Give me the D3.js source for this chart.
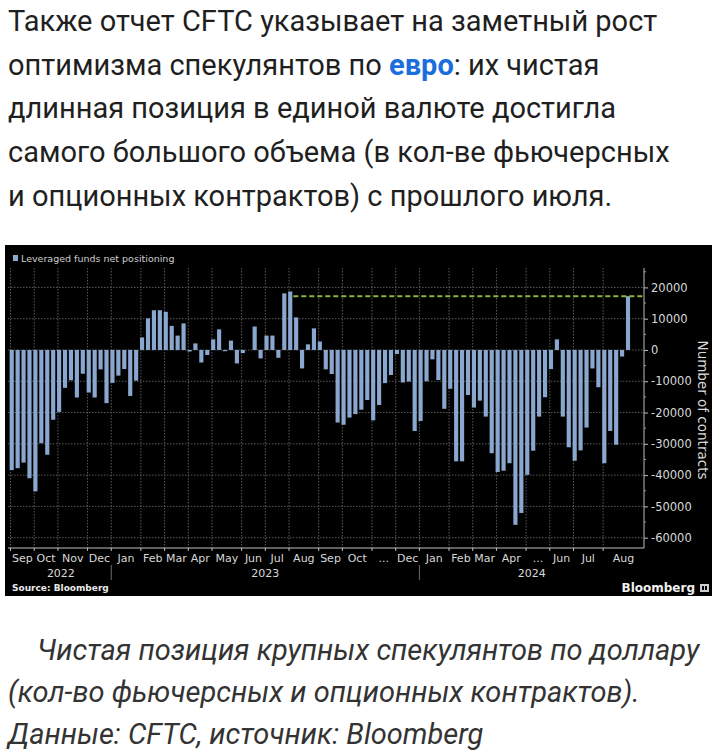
<!DOCTYPE html>
<html>
<head>
<meta charset="utf-8">
<script src="https://cdn.jsdelivr.net/npm/d3@7"></script>
<style>
  html, body { margin: 0; padding: 0; background: #ffffff; }
  svg { display: block; }
</style>
</head>
<body>
<script>
// ---------------- DATA ----------------
// Weekly leveraged funds net positioning (contracts), Sep 2022 – Aug 2024
const netPositions = [
  -38400, -37800, -36000, -41000, -45200, -29800, -33500, -22300, -19800, -12100,
  -9700, -15200, -7600, -13600, -15200, -6200, -17000, -10500, -8200, -6100,
  -14700, -9800, 4000, 10100, 12700, 12700, 12200, 7700, 4600, 8500,
  -500, 2100, -4000, -1600, 3400, 6600, -400, 3000, -4300, -1000,
  0, 7500, -2700, 4600, 4600, -2500, 18100, 18700, 10400, -5900,
  1800, 6900, 2700, -6200, -7700, -23200, -23900, -21600, -20500, -19100,
  -16000, -22500, -17600, -10600, -8000, -1300, -10400, -10100, -25900, -22700,
  -10000, -3000, -9600, -18800, -12400, -35600, -35600, -14400, -18400, -16200,
  -21300, -33000, -39000, -38600, -36200, -55900, -52100, -39900, -32200, -21300,
  -15100, -6100, 3400, -21300, -31100, -35400, -32100, -24800, -5900, -11900,
  -36200, -25900, -30300, -2100, 17200
];
const referenceLevel = 17200;           // dashed green line (latest value)
const referenceStartIndex = 47;         // drawn from the July 2023 peak

const monthLabels = ["Sep","Oct","Nov","Dec","Jan","Feb","Mar","Apr","May","Jun","Jul","Aug",
                     "Sep","Oct","...","Dec","Jan","Feb","Mar","Apr","...","Jun","Jul","Aug"];
const monthStartIndex = [0,4,8,13,17,22,26,30,34,39,43,47,52,56,61,65,69,74,78,82,87,91,95,100];
const yearLabels = ["2022","2023","2024"];
const yearStartIndex = [0,17,69];
const yTickValues = [20000,10000,0,-10000,-20000,-30000,-40000,-50000,-60000];
const yMinorTickValues = [25000,15000,5000,-5000,-15000,-25000,-35000,-45000,-55000];

const introLines = [
  [{t:"Также отчет CFTC указывает на заметный рост"}],
  [{t:"оптимизма спекулянтов по "},{t:"евро", b:true},{t:": их чистая"}],
  [{t:"длинная позиция в единой валюте достигла"}],
  [{t:"самого большого объема (в кол-ве фьючерсных"}],
  [{t:"и опционных контрактов) с прошлого июля."}]
];
const captionLines = [
  "Чистая позиция крупных спекулянтов по доллару",
  "(кол-во фьючерсных и опционных контрактов).",
  "Данные: CFTC, источник: Bloomberg"
];

// ---------------- LAYOUT ----------------
const W = 716, H = 750;
const plotLeft = 8, plotRight = 644, plotTop = 268, plotBottom = 548;
const barColor = "#8aa7cf";
const gridColor = "#5a5a5a";
const axisText = "#d8d8d8";
const font = "DejaVu Sans, sans-serif";

const svg = d3.select("body").append("svg")
  .attr("width", W).attr("height", H)
  .attr("viewBox", `0 0 ${W} ${H}`);

// ---------- Intro paragraph ----------
const intro = svg.append("g");
introLines.forEach((line, i) => {
  const t = intro.append("text")
    .attr("x", 8).attr("y", 31 + i * 43.7)
    .attr("font-family", "Roboto, sans-serif")
    .attr("font-size", 29)
    .attr("fill", "#1f1f1f");
  line.forEach(seg => {
    const s = t.append("tspan").text(seg.t);
    if (seg.b) s.attr("font-weight", "bold").attr("fill", "#1a6fdc");
  });
});

// ---------- Chart panel ----------
svg.append("rect")
  .attr("x", 5).attr("y", 245).attr("width", 707).attr("height", 351)
  .attr("fill", "#000000");

const idx = d3.range(netPositions.length);
const x = d3.scaleBand()
  .domain(idx)
  .range([8.74, 8.74 + 5.926 * netPositions.length])
  .paddingInner(0.3)
  .paddingOuter(0.15);
const step = x.step();
const slotLeft = i => x(i) - (step - x.bandwidth()) / 2;
const tickX = i => slotLeft(i) + step * 0.3;

const y = d3.scaleLinear()
  .domain([-63300, 26200])
  .range([plotBottom, plotTop]);

// Horizontal gridlines
svg.append("g").selectAll("line")
  .data(yTickValues)
  .join("line")
  .attr("x1", plotLeft).attr("x2", plotRight)
  .attr("y1", d => y(d)).attr("y2", d => y(d))
  .attr("stroke", gridColor).attr("stroke-width", 1)
  .attr("stroke-dasharray", "1.5,1.5");

// Vertical gridlines at month starts
svg.append("g").selectAll("line")
  .data(monthStartIndex)
  .join("line")
  .attr("x1", d => tickX(d)).attr("x2", d => tickX(d))
  .attr("y1", plotTop).attr("y2", plotBottom)
  .attr("stroke", gridColor).attr("stroke-width", 1)
  .attr("stroke-dasharray", "1.5,1.5");

// Bars
svg.append("g").selectAll("rect")
  .data(netPositions)
  .join("rect")
  .attr("x", (d, i) => x(i))
  .attr("width", x.bandwidth())
  .attr("y", d => y(Math.max(0, d)))
  .attr("height", d => Math.abs(y(d) - y(0)))
  .attr("fill", barColor);

// Dashed reference line
svg.append("line")
  .attr("x1", x(referenceStartIndex) + x.bandwidth() + 1)
  .attr("x2", plotRight)
  .attr("y1", y(referenceLevel)).attr("y2", y(referenceLevel))
  .attr("stroke", "#8db43a").attr("stroke-width", 2)
  .attr("stroke-dasharray", "5,3");

// X axis line
svg.append("line")
  .attr("x1", plotLeft).attr("x2", plotRight)
  .attr("y1", plotBottom).attr("y2", plotBottom)
  .attr("stroke", "#bdbdbd").attr("stroke-width", 1);

// X ticks
svg.append("g").selectAll("line")
  .data(monthStartIndex)
  .join("line")
  .attr("x1", d => tickX(d)).attr("x2", d => tickX(d))
  .attr("y1", plotBottom).attr("y2", plotBottom + 3)
  .attr("stroke", "#bdbdbd");

// Month labels (centered between month starts)
const monthEnds = monthStartIndex.slice(1).map(d => tickX(d)).concat([plotRight]);
svg.append("g").selectAll("text")
  .data(monthLabels)
  .join("text")
  .attr("x", (d, i) => (tickX(monthStartIndex[i]) + monthEnds[i]) / 2)
  .attr("y", 562)
  .attr("text-anchor", "middle")
  .attr("font-family", font).attr("font-size", 11)
  .attr("fill", axisText)
  .text(d => d);

// Year labels and separators
const yearEnds = yearStartIndex.slice(1).map(d => tickX(d)).concat([plotRight]);
svg.append("g").selectAll("text")
  .data(yearLabels)
  .join("text")
  .attr("x", (d, i) => (tickX(yearStartIndex[i]) + yearEnds[i]) / 2)
  .attr("y", 577)
  .attr("text-anchor", "middle")
  .attr("font-family", font).attr("font-size", 11)
  .attr("fill", axisText)
  .text(d => d);
svg.append("g").selectAll("line")
  .data(yearStartIndex.slice(1))
  .join("line")
  .attr("x1", d => tickX(d)).attr("x2", d => tickX(d))
  .attr("y1", 565).attr("y2", 580)
  .attr("stroke", "#6a6a6a");

// Right Y axis
const yAxis = d3.axisRight(y)
  .tickValues(yTickValues)
  .tickSize(4)
  .tickPadding(3)
  .tickFormat(d => String(d));
const yg = svg.append("g")
  .attr("transform", `translate(${plotRight},0)`)
  .call(yAxis);
yg.select(".domain").attr("stroke", "#bdbdbd").attr("d", `M0,${plotTop}V${plotBottom}`);
yg.selectAll(".tick line").attr("stroke", "#bdbdbd");
yg.selectAll(".tick text")
  .attr("font-family", font).attr("font-size", 11.5)
  .attr("fill", axisText);
svg.append("g").selectAll("line")
  .data(yMinorTickValues)
  .join("line")
  .attr("x1", plotRight).attr("x2", plotRight + 2)
  .attr("y1", d => y(d)).attr("y2", d => y(d))
  .attr("stroke", "#9a9a9a");

// Y axis title
svg.append("text")
  .attr("transform", `translate(698,410) rotate(90)`)
  .attr("text-anchor", "middle")
  .attr("font-family", font).attr("font-size", 13.5)
  .attr("fill", axisText)
  .text("Number of contracts");

// Legend
svg.append("rect")
  .attr("x", 13).attr("y", 255).attr("width", 5).attr("height", 6)
  .attr("fill", barColor);
svg.append("text")
  .attr("x", 21).attr("y", 261.5)
  .attr("font-family", font).attr("font-size", 9.5)
  .attr("fill", "#cfcfcf")
  .text("Leveraged funds net positioning");

// Source + brand
svg.append("text")
  .attr("x", 12).attr("y", 590.5)
  .attr("font-family", font).attr("font-size", 9).attr("font-weight", "bold")
  .attr("fill", "#e8e8e8")
  .text("Source: Bloomberg");
svg.append("text")
  .attr("x", 695).attr("y", 592)
  .attr("text-anchor", "end")
  .attr("font-family", font).attr("font-size", 12).attr("font-weight", "bold")
  .attr("fill", "#f0f0f0")
  .text("Bloomberg");
const icon = svg.append("g").attr("transform", "translate(700,583)");
icon.append("rect").attr("x", 0).attr("y", 1).attr("width", 9).attr("height", 8).attr("fill", "#cfcfcf");
icon.append("rect").attr("x", 2).attr("y", 3).attr("width", 2).attr("height", 4).attr("fill", "#000");
icon.append("rect").attr("x", 5).attr("y", 3).attr("width", 2).attr("height", 4).attr("fill", "#000");

// ---------- Caption ----------
const cap = svg.append("g");
captionLines.forEach((line, i) => {
  cap.append("text")
    .attr("x", i === 0 ? 37 : 8)
    .attr("y", 660 + i * 42)
    .attr("font-family", "Roboto, sans-serif")
    .attr("font-style", "italic")
    .attr("font-size", 29)
    .attr("fill", "#333333")
    .text(line);
});
</script>
</body>
</html>
